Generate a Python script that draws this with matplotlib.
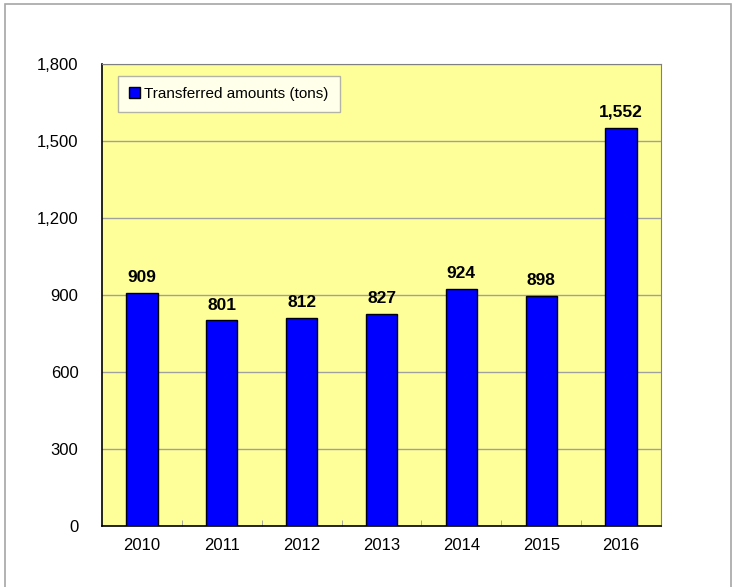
import matplotlib.pyplot as plt
from matplotlib.patches import Rectangle

years = ["2010", "2011", "2012", "2013", "2014", "2015", "2016"]
amounts = [909, 801, 812, 827, 924, 898, 1552]
yticks = [0, 300, 600, 900, 1200, 1500, 1800]

plt.rcParams["font.family"] = ["Liberation Sans", "DejaVu Sans"]

fig = plt.figure(figsize=(7.37, 5.87), dpi=100)
ax = fig.add_axes([102 / 737, 1 - 526 / 587, 559 / 737, 462 / 587])

# outer grey frame of the chart
fig.patches.append(Rectangle((5 / 737, -0.05), 726 / 737, 1.05 - 4 / 587,
                             transform=fig.transFigure, fill=False,
                             edgecolor="#a6a6a6", linewidth=1.2))

ax.set_facecolor("#ffff99")
x = range(len(years))
ax.bar(x, amounts, width=0.39, color="#0000ff", edgecolor="black",
       linewidth=1, label="Transferred amounts (tons)", zorder=3)

for xi, v in zip(x, amounts):
    ax.text(xi, v + 30, f"{v:,}", ha="center", va="bottom",
            fontsize=12.5, fontweight="bold", zorder=4)

ax.set_xlim(-0.5, len(years) - 0.5)
ax.set_ylim(0, 1800)
ax.set_yticks(yticks)
ax.set_yticklabels([f"{t:,}" for t in yticks], fontsize=12)
ax.set_xticks(list(x))
ax.set_xticklabels(years, fontsize=12)
ax.tick_params(axis="x", length=0, pad=9)
ax.tick_params(axis="y", length=0, pad=17)
ax.set_xticks([i + 0.5 for i in range(len(years) - 1)], minor=True)
ax.tick_params(axis="x", which="minor", direction="in", length=4, color="#999999")
ax.yaxis.grid(True, color="#a0a0a0", linewidth=1, zorder=0)
ax.set_axisbelow(True)

for side in ["left", "bottom"]:
    ax.spines[side].set_color("black")
    ax.spines[side].set_linewidth(1.2)
for side in ["top", "right"]:
    ax.spines[side].set_color("#808080")

leg = ax.legend(loc="upper left", bbox_to_anchor=(0.028, 0.975), fontsize=11,
                frameon=True, fancybox=False, edgecolor="#a0a0a0",
                handlelength=0.7, handleheight=0.7, handletextpad=0.3,
                borderpad=0.75, borderaxespad=0)
leg.get_frame().set_linewidth(1)

fig.savefig("out.png", dpi=100)
